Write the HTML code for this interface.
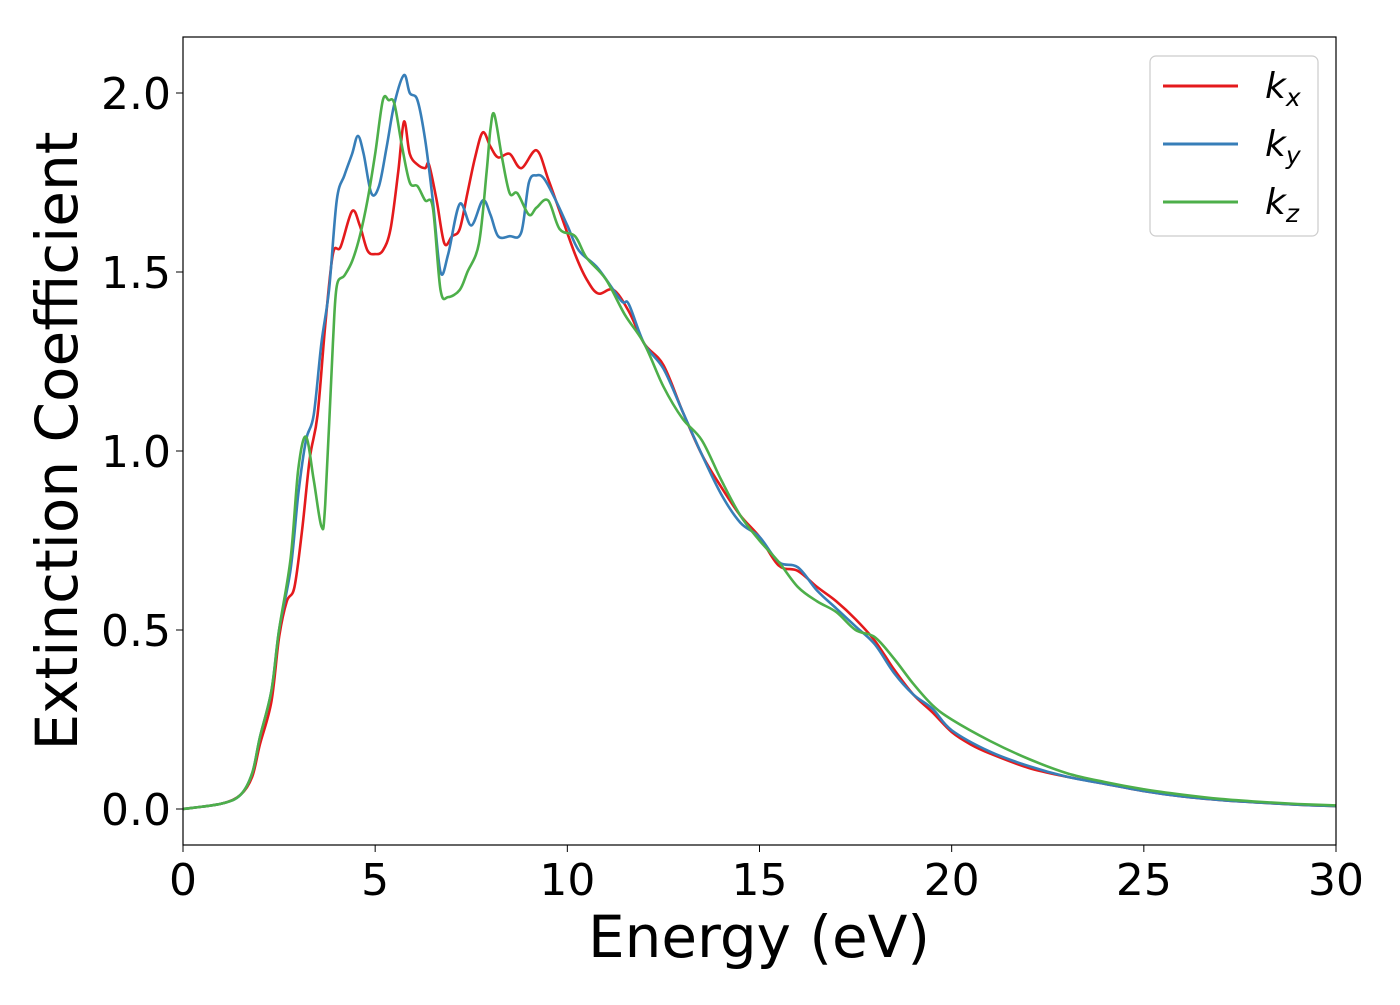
<!DOCTYPE html>
<html><head><meta charset="utf-8"><style>
body{margin:0;background:#fff}
svg text{font-family:"DejaVu Sans","Liberation Sans",sans-serif;fill:#000}
</style></head><body>
<svg id="chart" width="1400" height="1000" viewBox="0 0 1400 1000" xmlns="http://www.w3.org/2000/svg">
<rect width="1400" height="1000" fill="#fff"/>
<g id="series"></g>
<rect x="183" y="37" width="1153" height="808" fill="none" stroke="#000" stroke-width="1.2"/>
<g id="axes"></g>
<text x="759" y="957" font-size="58" text-anchor="middle">Energy (eV)</text>
<text transform="translate(77,441) rotate(-90)" font-size="58" text-anchor="middle">Extinction Coefficient</text>
<g>
<rect x="1150" y="56" width="168" height="180" rx="6" fill="#fff" stroke="#ccc" stroke-width="1.2"/>
<line x1="1163" y1="86" x2="1238" y2="86" stroke="#e41a1c" stroke-width="3"/>
<text x="1265" y="98" font-size="36" font-style="italic">k<tspan font-size="25" dy="8">x</tspan></text>
<line x1="1163" y1="144" x2="1238" y2="144" stroke="#377eb8" stroke-width="3"/>
<text x="1265" y="156" font-size="36" font-style="italic">k<tspan font-size="25" dy="8">y</tspan></text>
<line x1="1163" y1="202" x2="1238" y2="202" stroke="#4daf4a" stroke-width="3"/>
<text x="1265" y="214" font-size="36" font-style="italic">k<tspan font-size="25" dy="8">z</tspan></text>
</g>
</svg>
<script>
const xTicks=[0,5,10,15,20,25,30];
const yTicks=[0.0,0.5,1.0,1.5,2.0];
const yTickLabels=["0.0","0.5","1.0","1.5","2.0"];
const kxE=[0,1,1.5,1.8,2.0,2.3,2.5,2.7,2.9,3.1,3.3,3.5,3.7,3.9,4.1,4.4,4.6,4.8,5.0,5.2,5.4,5.6,5.75,5.9,6.1,6.3,6.4,6.6,6.8,7.0,7.2,7.4,7.6,7.8,8.0,8.2,8.5,8.8,9.2,9.5,9.8,10.2,10.5,10.8,11.2,11.6,12,12.5,13,13.5,14,14.5,15,15.5,16,16.5,17,17.5,18,18.5,19,19.5,20,20.5,21,22,23,24,25,26,27,28,29,30];
const kxV=[0,0.015,0.04,0.09,0.18,0.3,0.48,0.58,0.62,0.78,0.98,1.1,1.35,1.55,1.57,1.67,1.63,1.56,1.55,1.56,1.62,1.78,1.92,1.83,1.8,1.79,1.8,1.7,1.58,1.6,1.62,1.72,1.82,1.89,1.85,1.82,1.83,1.79,1.84,1.76,1.67,1.55,1.48,1.44,1.45,1.39,1.3,1.24,1.11,0.99,0.9,0.82,0.76,0.68,0.665,0.62,0.58,0.53,0.47,0.39,0.32,0.27,0.215,0.18,0.155,0.115,0.09,0.07,0.05,0.035,0.025,0.018,0.012,0.008];
const kyE=[0,1,1.5,1.8,2.0,2.3,2.5,2.8,3.0,3.2,3.4,3.6,3.8,4.0,4.2,4.4,4.55,4.7,4.9,5.1,5.3,5.5,5.75,5.9,6.1,6.3,6.5,6.7,6.9,7.2,7.5,7.8,8.0,8.2,8.5,8.8,9.0,9.2,9.4,9.7,10.0,10.3,10.8,11.4,11.6,12,12.5,13,13.5,14,14.5,15,15.5,16,16.5,17,17.5,18,18.5,19,19.5,20,21,22,23,24,25,26,27,28,29,30];
const kyV=[0,0.015,0.04,0.1,0.2,0.33,0.5,0.67,0.88,1.03,1.1,1.3,1.45,1.7,1.77,1.83,1.88,1.83,1.72,1.74,1.85,1.97,2.05,2.0,1.98,1.87,1.7,1.5,1.55,1.69,1.63,1.7,1.66,1.6,1.6,1.61,1.75,1.77,1.76,1.7,1.63,1.56,1.51,1.42,1.41,1.3,1.23,1.11,0.99,0.88,0.8,0.76,0.69,0.675,0.61,0.56,0.51,0.46,0.38,0.32,0.28,0.22,0.16,0.12,0.09,0.07,0.05,0.035,0.025,0.018,0.012,0.008];
const kzE=[0,1,1.5,1.8,2.0,2.3,2.5,2.8,3.0,3.2,3.4,3.6,3.7,3.9,4.0,4.2,4.4,4.6,4.8,5.0,5.2,5.35,5.5,5.7,5.9,6.1,6.3,6.5,6.7,6.9,7.2,7.4,7.7,7.9,8.0,8.1,8.3,8.5,8.7,9.0,9.2,9.5,9.8,10.2,10.5,11,11.5,12,12.5,13,13.5,14,14.5,15,15.5,16,16.5,17,17.5,18,18.5,19,19.5,20,21,22,23,24,25,26,27,28,29,30];
const kzV=[0,0.015,0.04,0.1,0.2,0.33,0.5,0.7,0.95,1.04,0.92,0.79,0.85,1.3,1.46,1.49,1.53,1.6,1.7,1.83,1.98,1.98,1.97,1.85,1.75,1.74,1.7,1.68,1.45,1.43,1.45,1.5,1.58,1.78,1.9,1.94,1.82,1.72,1.72,1.66,1.68,1.7,1.62,1.6,1.54,1.48,1.38,1.3,1.18,1.09,1.03,0.92,0.82,0.75,0.69,0.62,0.58,0.55,0.5,0.48,0.42,0.35,0.29,0.25,0.19,0.14,0.1,0.075,0.055,0.04,0.028,0.02,0.014,0.01];
const X=e=>183+e*(1153/30);
const Y=v=>809-v*358;
const NS="http://www.w3.org/2000/svg";
function smooth(E,V){
  const p=E.map((e,i)=>[X(e),Y(V[i])]);
  let d="M"+p[0][0]+","+p[0][1];
  for(let i=0;i<p.length-1;i++){
    const p0=p[i-1]||p[i],p1=p[i],p2=p[i+1],p3=p[i+2]||p2;
    const c1=[p1[0]+(p2[0]-p0[0])/6,p1[1]+(p2[1]-p0[1])/6];
    const c2=[p2[0]-(p3[0]-p1[0])/6,p2[1]-(p3[1]-p1[1])/6];
    d+=` C${c1[0]},${c1[1]} ${c2[0]},${c2[1]} ${p2[0]},${p2[1]}`;
  }
  return d;
}
const sg=document.getElementById('series');
[[kxE,kxV,'#e41a1c','line-kx'],[kyE,kyV,'#377eb8','line-ky'],[kzE,kzV,'#4daf4a','line-kz']].forEach(s=>{
  const el=document.createElementNS(NS,'path');
  el.setAttribute('d',smooth(s[0],s[1]));
  el.setAttribute('fill','none');el.setAttribute('stroke',s[2]);el.setAttribute('stroke-width','2.6');
  
  
  sg.appendChild(el);
});
const ax=document.getElementById('axes');
xTicks.forEach(t=>{
  const l=document.createElementNS(NS,'line');
  l.setAttribute('x1',X(t));l.setAttribute('x2',X(t));l.setAttribute('y1',845);l.setAttribute('y2',852);l.setAttribute('stroke','#000');
  
  
  ax.appendChild(l);
  const tx=document.createElementNS(NS,'text');
  tx.setAttribute('x',X(t));tx.setAttribute('y',895);tx.setAttribute('font-size','44');tx.setAttribute('text-anchor','middle');
  tx.textContent=t;
  
  
  ax.appendChild(tx);
});
yTicks.forEach((t,i)=>{
  const l=document.createElementNS(NS,'line');
  l.setAttribute('x1',176);l.setAttribute('x2',183);l.setAttribute('y1',Y(t));l.setAttribute('y2',Y(t));l.setAttribute('stroke','#000');
  
  
  ax.appendChild(l);
  const tx=document.createElementNS(NS,'text');
  tx.setAttribute('x',171);tx.setAttribute('y',Y(t)+16);tx.setAttribute('font-size','44');tx.setAttribute('text-anchor','end');
  tx.textContent=yTickLabels[i];
  
  
  ax.appendChild(tx);
});
</script>
</body></html>
